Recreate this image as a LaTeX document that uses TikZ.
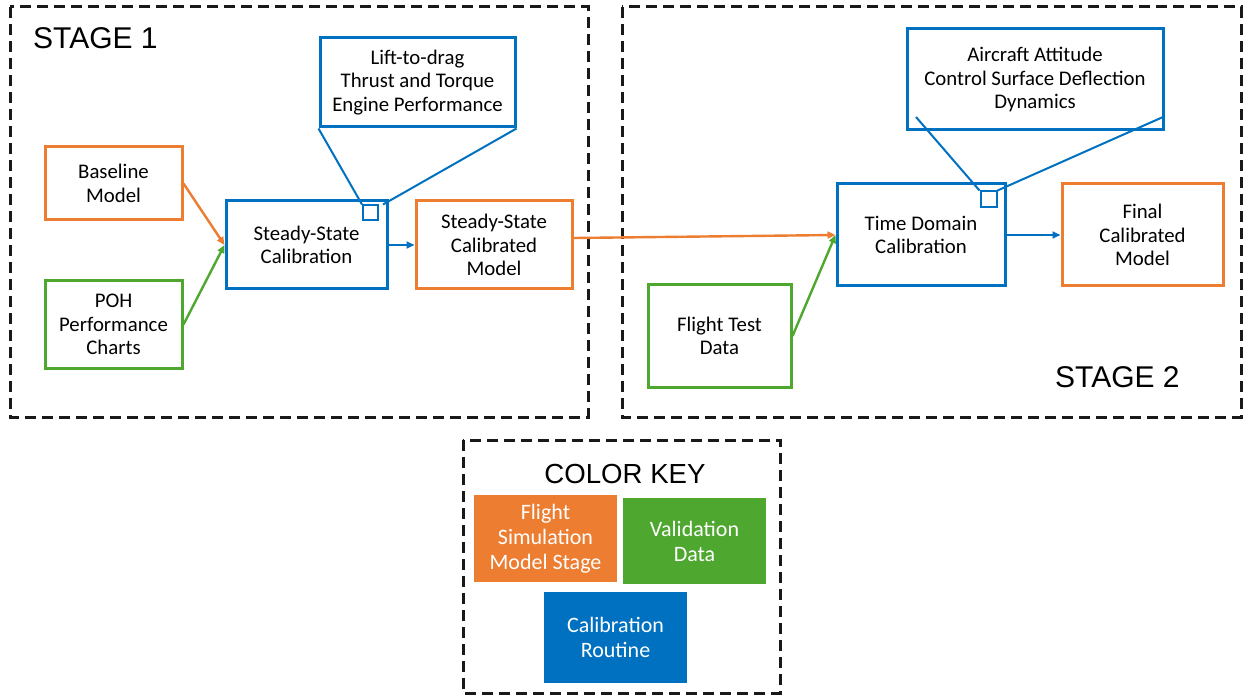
\documentclass[tikz,border=0pt]{standalone}
\usepackage{fontspec}
\setmainfont{Carlito}
\newfontfamily\headfont{Liberation Sans}
\usetikzlibrary{arrows.meta}
\definecolor{cor}{HTML}{ED7D31}
\definecolor{cgr}{HTML}{4EA72E}
\definecolor{cbl}{HTML}{0070C0}
\begin{document}
\begin{tikzpicture}[x=1pt,y=-1pt,
  box/.style={draw, line width=3pt, align=center, inner sep=2pt, text=black,
    font=\fontsize{20.8}{23.5}\selectfont},
  obox/.style={box, draw=cor},
  gbox/.style={box, draw=cgr},
  bbox/.style={box, draw=cbl},
  frame/.style={draw=black!90, line width=3pt, dash pattern=on 11pt off 6pt},
  arr/.style={line width=2.4pt, -{Triangle[length=8pt,width=7pt]}},
  callout/.style={draw=cbl, line width=2pt},
  sq/.style={draw=cbl, line width=2pt, minimum size=15pt, inner sep=0pt},
  bigtxt/.style={font=\headfont\fontsize{30}{34}\selectfont, text=black, inner sep=0pt},
  keybox/.style={draw=none, text=white, align=center, inner sep=0pt,
    font=\fontsize{22}{25}\selectfont, minimum width=143pt}]
\useasboundingbox (0,0) rectangle (1243,695);

% frames
\draw[frame] (10,7) rectangle (588,417);
\draw[frame] (622,7) rectangle (1241,417);
\draw[frame] (463,440) rectangle (780,693);

\node[bigtxt, anchor=base west] (s1) at (33,48.5) {STAGE 1};
\node[bigtxt, anchor=base west] (s2) at (1055,387) {STAGE 2};

% stage 1
\node[obox, minimum width=137pt, minimum height=73pt] (base) at (113.5,183.5) {Baseline\\Model};
\node[gbox, minimum width=137pt, minimum height=87pt] (poh) at (113.5,324.5) {POH\\Performance\\Charts};
\node[bbox, minimum width=161pt, minimum height=88pt] (ssc) at (306.5,245) {Steady-State\\Calibration};
\node[obox, minimum width=156pt, minimum height=88pt] (sscm) at (494,245) {Steady-State\\Calibrated\\Model};
\node[bbox, minimum width=195pt, minimum height=89pt] (lift) at (417.5,82.5) {Lift-to-drag\\Thrust and Torque\\Engine Performance};
\node[sq] (sq1) at (370.5,213) {};
\draw[callout] (lift.south west) -- (sq1.north west);
\draw[callout] (lift.south east) -- ([xshift=4pt]sq1.north east);

\draw[arr, cor] (base.east) -- (ssc.west);
\draw[arr, cgr] (poh.east) -- (ssc.west);
\draw[arr, cbl] (ssc.east) -- (sscm.west);

% stage 2
\node[bbox, minimum width=256pt, minimum height=101pt] (att) at (1035,79.5) {Aircraft Attitude\\Control Surface Deflection\\Dynamics};
\node[bbox, minimum width=168pt, minimum height=102pt] (tdc) at (921,235) {Time Domain\\Calibration};
\node[obox, minimum width=161pt, minimum height=102pt] (final) at (1142.5,235) {Final\\Calibrated\\Model};
\node[gbox, minimum width=143pt, minimum height=102pt] (flight) at (719.5,336) {Flight Test\\Data};
\node[sq, minimum size=16pt] (sq2) at (988.5,199.5) {};
\coordinate (c2a) at (916,117);
\coordinate (c2b) at (1163,117);
\draw[callout] (c2a) -- (sq2.north west);
\draw[callout] (c2b) -- (sq2.north east);

\draw[arr, cor] ([yshift=7pt]sscm.east) -- (tdc.west);
\draw[arr, cgr] (flight.east) -- (tdc.west);
\draw[arr, cbl] (tdc.east) -- (final.west);

% color key
\node[font=\headfont\fontsize{27.6}{30}\selectfont, inner sep=0pt, anchor=base] (ck) at (625,483) {COLOR KEY};
\node[keybox, fill=cor, minimum height=87pt] (k1) at (545.5,538.5) {Flight\\Simulation\\Model Stage};
\node[keybox, fill=cgr, minimum height=86pt] (k2) at (694.5,541) {Validation\\Data};
\node[keybox, fill=cbl, minimum height=91pt] (k3) at (615.5,637.5) {Calibration\\Routine};
\end{tikzpicture}
\end{document}
